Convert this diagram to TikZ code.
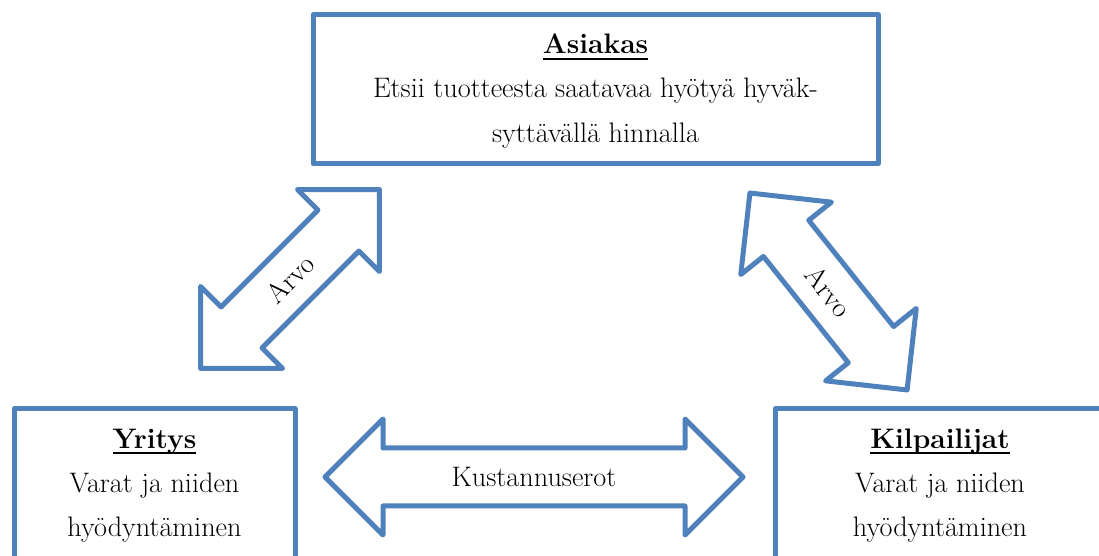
\documentclass[tikz,border=0pt]{standalone}
\definecolor{accentblue}{RGB}{79,129,189}
% bold title with a fixed-depth underline
\newsavebox\ttlbox
\newcommand\ttl[1]{\sbox\ttlbox{\bfseries #1}\rlap{\rule[-0.2em]{\wd\ttlbox}{0.075em}}\usebox\ttlbox}
% double block arrow: centre, angle, length
\newcommand\dblarrow[3]{%
  \begin{scope}[shift={#1}, rotate=#2]
    \draw[blockarrow] (-#3/2,0) -- ++(58,58) -- ++(0,-29) -- (#3/2-58,29) -- ++(0,29)
      -- (#3/2,0) -- ++(-58,-58) -- ++(0,29) -- (-#3/2+58,-29) -- ++(0,-29) -- cycle;
  \end{scope}}
\begin{document}
\begin{tikzpicture}[x=1pt,y=1pt,
  frame/.style={draw=accentblue, line width=5pt, line join=round, fill=white, inner sep=0pt},
  blocktext/.style={font=\fontsize{28.2}{44}\selectfont, align=center, inner sep=0pt},
  blockarrow/.style={draw=accentblue, line width=5pt, line join=round, fill=white}]
\useasboundingbox (0,0) rectangle (1099,556);
\clip (0,0) rectangle (1099,556);

% boxes
\node[frame, minimum width=565pt, minimum height=149pt] (asiakas) at (595.5,466.5) {};
\node[frame, minimum width=281pt, minimum height=207pt] (yritys) at (154.5,43.5) {};
\node[frame, minimum width=330pt, minimum height=207pt] (kilpailijat) at (940,43.5) {};

\node[blocktext] (asiakasText) at (595.5,465)
  {\ttl{Asiakas}\\Etsii tuotteesta saatavaa hyötyä hyväk-\\syttävällä hinnalla};
\node[blocktext] (yritysText) at (154.5,70.5)
  {\ttl{Yritys}\\Varat ja niiden\\hyödyntäminen};
\node[blocktext] (kilpailijatText) at (940,70.5)
  {\ttl{Kilpailijat}\\Varat ja niiden\\hyödyntäminen};

% block arrows between the boxes
\coordinate (arrowLeft) at (290,277);
\coordinate (arrowRight) at (828.5,264.5);
\coordinate (arrowBottom) at (534,79);
\dblarrow{(arrowLeft)}{45}{253}
\dblarrow{(arrowRight)}{-51.4}{252}
\dblarrow{(arrowBottom)}{0}{418}

\node[blocktext, rotate=45] (arvoLeft) at (arrowLeft) {Arvo};
\node[blocktext, rotate=-51.4] (arvoRight) at (arrowRight) {Arvo};
\node[blocktext] (kustannuserot) at (arrowBottom) {Kustannuserot};
\end{tikzpicture}
\end{document}
